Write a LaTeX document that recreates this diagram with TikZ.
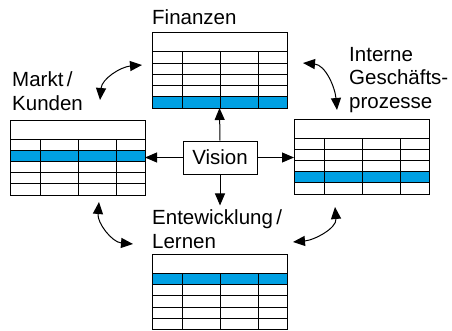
\documentclass[tikz,border=0pt]{standalone}
\usepackage{fontspec}
\setmainfont{Liberation Sans}
\usetikzlibrary{arrows.meta,calc,positioning}
\definecolor{bscblue}{RGB}{0,160,227}
\tikzset{
	tableline/.style={line width=1pt},
	tablebox/.style={draw,line width=1pt,minimum width=135pt,minimum height=75pt,inner sep=0pt,outer sep=0pt},
	visionbox/.style={draw,line width=1pt,minimum width=74pt,minimum height=33pt,inner sep=0pt,font=\fontsize{20.5}{23.5}\selectfont},
	persp/.style={inner sep=0pt,align=left,font=\fontsize{20.5}{23.5}\selectfont},
	arr/.style={-{Triangle[length=12pt,width=10pt]},line width=1pt},
	biarr/.style={{Triangle[length=12pt,width=10pt]}-{Triangle[length=12pt,width=10pt]},line width=1pt},
}
% #1 name, #2 top left corner, #3 blue row
\newcommand{\bsctable}[3]{
	\fill[bscblue] ($(#2)+(0,{-19-(#3-1)*11.2})$) rectangle ++(135,-11.2);
	\node (#1) at (#2) [tablebox,anchor=north west]{};
	\foreach \r in {0,...,4}
		\draw[tableline] ($(#1.north west)+(0,{-19-\r*11.2})$) -- ++(135,0);
	\foreach \c in {30,68,106}
		\draw[tableline] ($(#1.north west)+(\c,-19)$) -- ($(#1.south west)+(\c,0)$);
}
\begin{document}
\begin{tikzpicture}[x=1pt,y=1pt]
	\useasboundingbox (0,0) rectangle (452,330);
	\bsctable{fin}{152,297}{5}
	\bsctable{markt}{10,210}{2}
	\bsctable{proz}{294,211}{4}
	\bsctable{lern}{152,75.5}{1}
	
	\node (vision) at (220,172.5) [visionbox]{Vision};
	
	% base anchor = baseline of the last line
	\node (finlabel) at ($(fin.north west)+(0,8)$) [persp,anchor=base west]{Finanzen};
	\node (marktlabel) at (12,220) [persp,anchor=base west]{Markt\,/\\Kunden};
	\node (prozlabel) at (349,222) [persp,anchor=base west]{Interne\\Geschäfts-\\prozesse};
	\node (lernlabel) at (152,82) [persp,anchor=base west]{Entewicklung\,/\\Lernen};
	
	\draw[arr] (vision.north) -- (fin.south);
	\draw[arr] (vision.west) -- (vision.west -| markt.east);
	\draw[arr] (vision.east) -- (vision.east -| proz.west);
	\draw[arr] (vision.south) -- ($(vision.south |- lernlabel.north)+(0,4)$);
	
	\coordinate (tla) at (100,230);
	\coordinate (tlb) at (142,265);
	\coordinate (tra) at (303,267);
	\coordinate (trb) at (337,220);
	\coordinate (bla) at (99,128);
	\coordinate (blb) at (133,86);
	\coordinate (bra) at (335,123);
	\coordinate (brb) at (293,88);
	\draw[biarr] (tla) to[out=85,in=185] (tlb);
	\draw[biarr] (tra) to[out=-5,in=95] (trb);
	\draw[biarr] (bla) to[out=-95,in=175] (blb);
	\draw[biarr] (bra) to[out=-85,in=5] (brb);
\end{tikzpicture}
\end{document}
